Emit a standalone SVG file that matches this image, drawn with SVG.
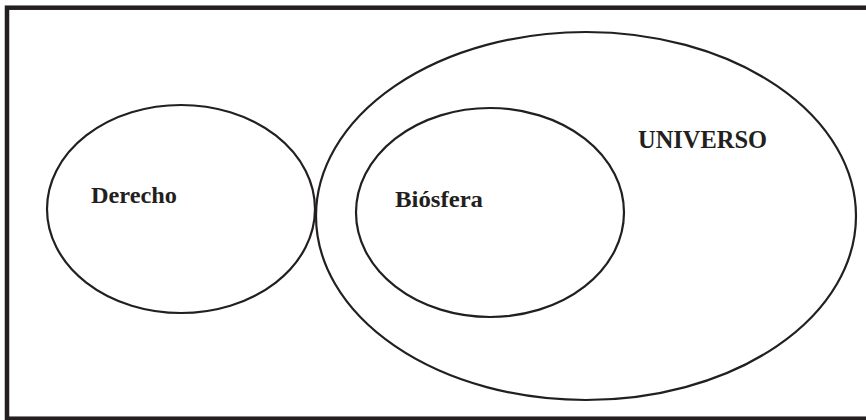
<svg xmlns="http://www.w3.org/2000/svg" width="866" height="420" viewBox="0 0 866 420">
<style>
.frame{fill:none;stroke:#231f20;stroke-width:4.5}
.ell{fill:none;stroke:#231f20;stroke-width:2.2}
.lbl{font-family:"Liberation Serif","Times New Roman",serif;font-weight:bold;fill:#231f20}
</style>
<rect width="866" height="420" fill="#ffffff"/>
<rect class="frame" x="7" y="7.7" width="875" height="411"/>
<g id="universo">
<ellipse class="ell" cx="586" cy="216" rx="270" ry="184"/>
<text class="lbl" x="638" y="148" font-size="26" textLength="129" lengthAdjust="spacingAndGlyphs">UNIVERSO</text>
</g>
<g id="biosfera">
<ellipse class="ell" cx="490" cy="212.5" rx="134" ry="104.5"/>
<text class="lbl" x="395" y="207" font-size="24" textLength="88" lengthAdjust="spacingAndGlyphs">Biósfera</text>
</g>
<g id="derecho">
<ellipse class="ell" cx="181" cy="209" rx="134" ry="104"/>
<text class="lbl" x="91" y="203" font-size="24" textLength="86" lengthAdjust="spacingAndGlyphs">Derecho</text>
</g>
<g id="connectors"></g>
</svg>
